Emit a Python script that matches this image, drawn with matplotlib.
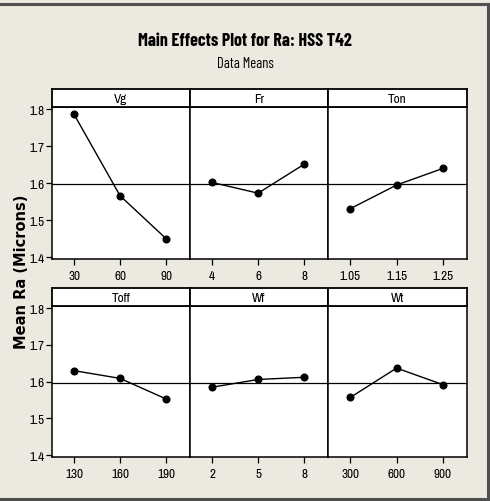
import matplotlib
matplotlib.use("Agg")
import matplotlib.pyplot as plt

plt.rcParams['font.family'] = ['Archivo Narrow', 'Barlow Condensed', 'DejaVu Sans']
TITLE_FONT = ['Barlow Condensed', 'Archivo Narrow', 'DejaVu Sans']

factors = ["Vg", "Fr", "Ton", "Toff", "Wf", "Wt"]
levels_vg = ["30", "60", "90"]
levels_fr = ["4", "6", "8"]
levels_ton = ["1.05", "1.15", "1.25"]
levels_toff = ["130", "160", "190"]
levels_wf = ["2", "5", "8"]
levels_wt = ["300", "600", "900"]
means_vg = [1.786, 1.566, 1.450]
means_fr = [1.602, 1.573, 1.651]
means_ton = [1.531, 1.595, 1.640]
means_toff = [1.630, 1.609, 1.553]
means_wf = [1.585, 1.606, 1.612]
means_wt = [1.557, 1.637, 1.592]
grand_mean = 1.597
y_ticks = [1.4, 1.5, 1.6, 1.7, 1.8]

levels = [levels_vg, levels_fr, levels_ton, levels_toff, levels_wf, levels_wt]
means = [means_vg, means_fr, means_ton, means_toff, means_wf, means_wt]

W, H = 490, 502
fig = plt.figure(figsize=(W / 100, H / 100), dpi=100)
fig.patch.set_facecolor('#ECE9E0')

# frame lines
fig.add_artist(plt.Line2D([0, 488 / W], [1 - 5 / H, 1 - 5 / H], color='#505050', lw=2.2, transform=fig.transFigure))
fig.add_artist(plt.Line2D([488 / W, 488 / W], [1 - 5 / H, 1 - 500 / H], color='#505050', lw=2.2, transform=fig.transFigure))
fig.add_artist(plt.Line2D([0, 488 / W], [1 - 500 / H, 1 - 500 / H], color='#505050', lw=2.2, transform=fig.transFigure))

col_x = [52, 190, 328, 467]
rows = [(108, 260, 90), (307, 458, 289)]  # plot top, plot bottom, strip top

for i, name in enumerate(factors):
    r, c = divmod(i, 3)
    top, bot, stop = rows[r]
    x0, x1 = col_x[c], col_x[c + 1]
    ax = fig.add_axes([x0 / W, 1 - bot / H, (x1 - x0) / W, (bot - top) / H])
    ax.set_facecolor('white')
    xs = list(range(len(levels[i])))
    ax.axhline(grand_mean, color='black', lw=0.9, zorder=1)
    ax.plot(xs, means[i], color='black', lw=1.0, marker='o', markersize=4.8, zorder=3)
    ax.set_xlim(-0.48, 2.52)
    ax.set_ylim(1.395, 1.806)
    ax.set_xticks(xs)
    ax.set_xticklabels(levels[i], fontsize=9.5)
    ax.set_yticks(y_ticks)
    if c == 0:
        ax.set_yticklabels([f"{v:.1f}" for v in y_ticks], fontsize=9.5)
        ax.tick_params(axis='y', direction='out', length=4, width=0.9, pad=1.5)
    else:
        ax.tick_params(axis='y', left=False, labelleft=False)
    ax.tick_params(axis='x', direction='out', length=4, width=0.9, pad=4)
    for s in ax.spines.values():
        s.set_color('black')
        s.set_linewidth(1.1)
    # strip
    sax = fig.add_axes([x0 / W, 1 - top / H, (x1 - x0) / W, (top - stop) / H])
    sax.set_facecolor('white')
    sax.set_xticks([])
    sax.set_yticks([])
    for s in sax.spines.values():
        s.set_color('black')
        s.set_linewidth(1.3)
    sax.text(0.5, 0.45, name, ha='center', va='center', fontsize=9.5, transform=sax.transAxes)

fig.text(245 / W, 1 - 42 / H, "Main Effects Plot for Ra: HSS T42", ha='center', va='center',
         fontsize=13, fontweight='bold', family=TITLE_FONT)
fig.text(245 / W, 1 - 64 / H, "Data Means", ha='center', va='center', fontsize=10.5, family=TITLE_FONT)
fig.text(22 / W, 1 - 272 / H, "Mean Ra (Microns)", ha='center', va='center', rotation=90,
         fontsize=10.5, fontweight='bold', family='DejaVu Sans')

fig.savefig("out.png", dpi=100, facecolor=fig.get_facecolor())
